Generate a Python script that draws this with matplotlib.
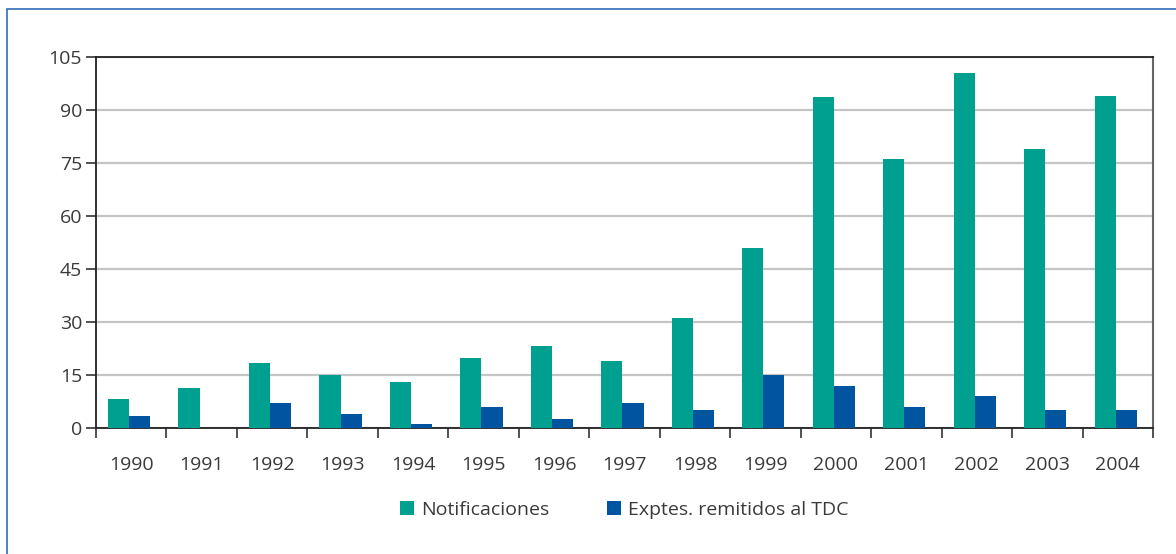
import numpy as np
import matplotlib.pyplot as plt
from matplotlib.patches import Rectangle

years = ["1990", "1991", "1992", "1993", "1994", "1995", "1996", "1997",
         "1998", "1999", "2000", "2001", "2002", "2003", "2004"]
notificaciones = [8.3, 11.4, 18.5, 15, 13.1, 19.9, 23.3, 19, 31.2, 51, 93.7, 76.2, 100.6, 79, 94]
exptes = [3.5, 0, 7.2, 4, 1.2, 6, 2.5, 7, 5, 15, 12, 6, 9, 5, 5]

green = "#00a090"
blue = "#0054a0"
txt = "#3a3a3a"

plt.rcParams['font.family'] = ['Open Sans', 'DejaVu Sans']

fig = plt.figure(figsize=(11.76, 5.54), dpi=100)
W, H = 1176, 554
ax = fig.add_axes([96 / W, 1 - 428 / H, (1153 - 96) / W, (428 - 57) / H])

# outer frame (left and top visible)
fig.patches.append(Rectangle((7 / W, -0.1), 1.2, 1 - 9 / H + 0.1, transform=fig.transFigure,
                             fill=False, edgecolor="#2d6db5", linewidth=1.2))

x = np.arange(len(years))
bw = 0.3
ax.bar(x - bw / 2 - 0.03, notificaciones, bw, color=green, label="Notificaciones", zorder=3)
ax.bar(x + bw / 2 - 0.03, exptes, bw, color=blue, label="Exptes. remitidos al TDC", zorder=3)

ax.set_xlim(-0.5, len(years) - 0.5)
ax.set_ylim(0, 105)
ax.set_yticks(np.arange(0, 106, 15))
ax.yaxis.grid(True, color="#c4c4c4", linewidth=1.6, zorder=0)

ax.set_xticks(x)
ax.set_xticklabels(years)
ax.set_xticks(np.arange(-0.5, len(years), 1), minor=True)
ax.tick_params(axis='x', which='major', length=0, pad=20, labelsize=14, labelcolor=txt)
ax.tick_params(axis='x', which='minor', length=7, width=1.2, color="#333333", direction='out')
ax.tick_params(axis='y', length=7, width=1.2, color="#333333", labelsize=14, labelcolor=txt, pad=3)

for s in ['left', 'bottom', 'top']:
    ax.spines[s].set_color("#222222")
    ax.spines[s].set_linewidth(1.3)
ax.spines['right'].set_color("#666666")
ax.spines['right'].set_linewidth(1.5)

fig.legend(loc='center', bbox_to_anchor=(0.531, 1 - 510 / H), ncol=2, frameon=False,
           fontsize=14, labelcolor=txt, handlelength=0.7, handleheight=0.7,
           handletextpad=0.35, columnspacing=3.0)

fig.savefig("out.png", dpi=100)
